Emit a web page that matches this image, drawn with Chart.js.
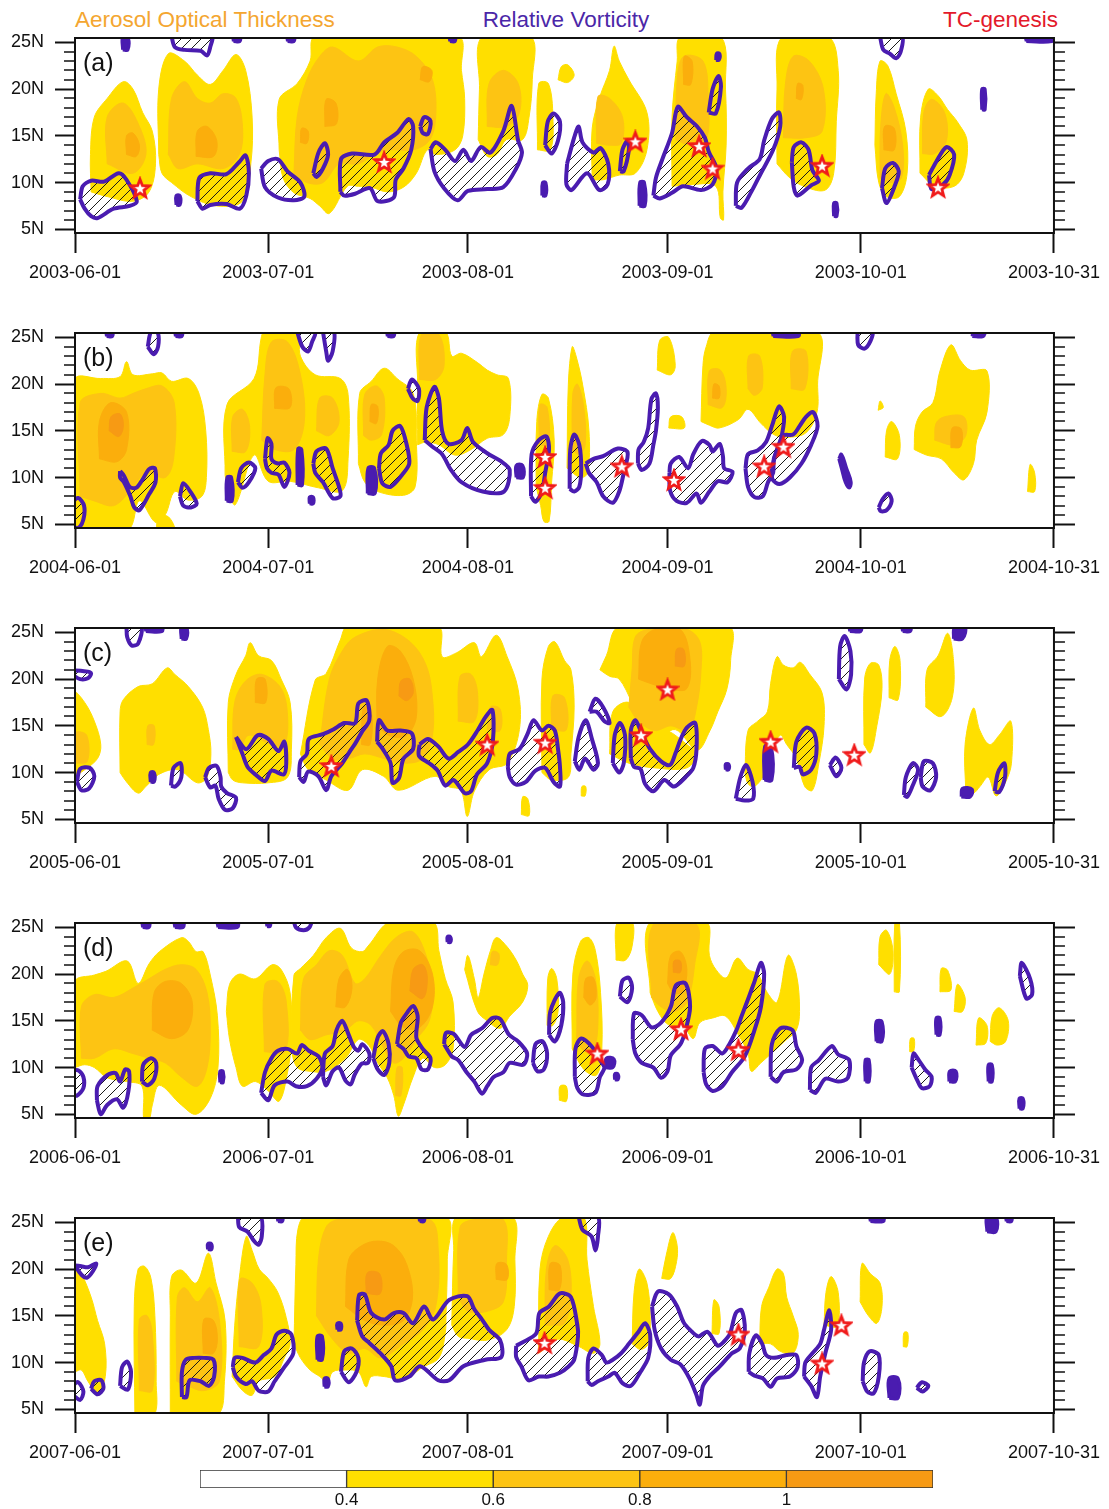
<!DOCTYPE html>
<html>
<head>
<meta charset="utf-8">
<script src="https://cdn.jsdelivr.net/npm/chart.js@4.4.0/dist/chart.umd.min.js"></script>
<style>
  body { margin: 0; background: #fff; width: 1109px; height: 1509px; position: relative; overflow: hidden;
         font-family: 'Liberation Sans', Arial, Helvetica, sans-serif; }
  .hdr { position: absolute; top: 8px; font-size: 22.5px; line-height: 23px; white-space: nowrap; }
  canvas { position: absolute; left: 0; }
</style>
</head>
<body>
<div class="hdr" style="left:75px;color:#F4A630">Aerosol Optical Thickness</div>
<div class="hdr" style="left:466px;width:200px;text-align:center;color:#4B27A8">Relative Vorticity</div>
<div class="hdr" style="left:858px;width:200px;text-align:right;color:#E3192B">TC-genesis</div>

<canvas id="p0" width="1109" height="295" style="top:0px"></canvas>
<canvas id="p1" width="1109" height="295" style="top:295px"></canvas>
<canvas id="p2" width="1109" height="295" style="top:590px"></canvas>
<canvas id="p3" width="1109" height="295" style="top:885px"></canvas>
<canvas id="p4" width="1109" height="295" style="top:1180px"></canvas>
<canvas id="cbar" width="1109" height="49" style="top:1460px"></canvas>

<script>
// axes: day index from June 1 (0) to Oct 31 (152), latitude 5N-25N
const dayTicks = [0, 30, 61, 92, 122, 152];
const dayTickSuffix = ['-06-01', '-07-01', '-08-01', '-09-01', '-10-01', '-10-31'];
const latTicks = [5, 10, 15, 20, 25];
const latTickLabels = ['5N', '10N', '15N', '20N', '25N'];
const aotLevels = [0.4, 0.6, 0.8, 1.0];
const aotLevelLabels = ['0.4', '0.6', '0.8', '1'];
const cbBounds = [0.2, 0.4, 0.6, 0.8, 1.0, 1.2];

// ---- 2003 (a) ---- polygons as [day, lat, day, lat, ...]
const aot04_2003 = [
  [2.5,9, 2.4,13, 3,17, 5,19, 7.5,20.8, 9,20, 10.5,17.5, 12,15.5, 12.5,12, 11.5,9, 9,8, 5,8.5],
  [13,13, 13,20, 14.5,23.8, 17,23, 19,21.5, 21,20.5, 23,22, 25,23.7, 26.5,22, 27.5,17, 27.3,12, 26,8, 22,7.5, 18,8.5, 15,10, 13.5,11],
  [31.7,13.5, 31.7,18.9, 34.5,20.6, 36.5,23, 37.3,25.6, 59.5,25.6, 60,22, 60.5,19, 60.2,15, 59,13.5, 56,13, 54.7,13.5, 53,11, 51,9.5, 48.5,9, 46,9.5, 44,9.6, 42.3,9.6, 39.5,6.7, 38,7.5, 36.5,8.3, 34,8.9, 32.3,10.5],
  [62.6,14.6, 62.8,20, 63.2,25.6, 70.8,25.6, 71,21, 70.5,17, 69.5,14.6, 67,14.6, 65.5,13, 64,12.8],
  [75,21, 75.5,22.4, 76.5,22.6, 77.5,21.5, 76.5,20.7],
  [71.8,13.5, 72,20.6, 73.5,20.6, 74.2,17, 73.8,13.5],
  [80.3,10.3, 80.3,15.8, 81.5,19.2, 83,22, 83.7,24.6, 84.5,23, 86,21, 88.8,17.5, 88.8,13.5, 87,11, 84.5,10.8, 82,10.3],
  [92.7,9.6, 92.7,17, 93.5,23, 94,25.6, 100.3,25.6, 101,20, 101.1,14, 100.6,9, 100.7,6, 100.2,6.2, 99.5,9.6, 96,9.8],
  [109,12, 109,20, 109.8,25.6, 117,25.6, 118.5,22, 118.2,16.5, 117.8,11, 116.5,9.2, 113.5,9.5, 111,10.5],
  [124.2,14, 124.4,19.5, 125,23, 126.2,22.5, 127.5,19.5, 129,15.5, 129.2,11, 128,8.5, 126,8.5, 124.8,10],
  [131.2,11, 131.3,17, 132.5,20, 134,19.3, 135.5,17.8, 137,16.5, 138.5,14.5, 138,11, 136.5,9.6, 133.5,9.6]
];
const aot06_2003 = [
  [5,12, 5,17, 7.5,18.5, 10,16, 11,13, 9,11],
  [14.5,13, 15,19, 17,20.8, 19,19, 21,18.5, 23,19.5, 25,19, 26,16, 25.5,13, 23,11.5, 19,12, 16,11.5],
  [34,11, 34.5,17, 36,21, 38,23.5, 40,24.5, 44,23, 47,24.5, 50,24.5, 53,23.5, 55.5,21, 56,17, 55,14.5, 52.5,13.5, 49,13.5, 46.5,13, 44,12, 41,12, 38.5,10, 36,10],
  [64,16, 64.3,20.6, 66.5,22, 68.8,20.6, 69,17.5, 67,16],
  [81,14.2, 81.2,19.2, 83,19, 85,17, 84.8,14.2, 83,14],
  [93.3,14.6, 93.5,21, 94.5,23.5, 97.5,23, 98.3,19, 98,14.6, 95.5,14],
  [110,14.8, 110.3,20.5, 111.5,23.5, 114,23, 116.2,20, 116,15.5, 113.5,14.8],
  [125,10.5, 125.1,16, 125.9,19.5, 127.2,18, 128.5,14, 128.3,10.5, 126.5,10],
  [131.6,13.1, 131.8,17.5, 133,18.9, 135,17.5, 135.3,14.5, 133.5,13.1]
];
const aot08_2003 = [
  [8,13, 8,15, 9,15.3, 10,14, 9.5,12.8],
  [18.8,12.8, 19,15.5, 20.5,16, 22,14.5, 21.5,12.8],
  [35,14.3, 35.2,15.8, 36.2,15.5, 36,14.2],
  [38.8,16, 39,18.9, 40.5,18.5, 40.6,16.3],
  [53.6,21, 54,22.4, 55.4,22, 55,20.8],
  [94.5,20.5, 94.6,23.5, 95.8,23, 95.6,20.5],
  [112,19, 112.2,20.6, 113,20.4, 112.8,18.9],
  [125.6,13.5, 125.7,16, 127.2,15.8, 127.2,13.5]
];
const aot10_2003 = [];
const vort_2003 = [
  [0.8,8.2, 1.2,9.6, 2.5,10.2, 4.5,10.1, 6.8,11.0, 8.0,10.3, 9.6,8.0, 8.5,7.5, 6,7.2, 3.5,6.2, 2.5,6.4, 1.5,7.2],
  [19,8.0, 19.3,10.5, 21,11.0, 23.5,10.9, 25.5,12.2, 26.5,12.9, 27,11, 26.6,8.6, 25.6,7.2, 23.5,7.7, 21,7.6, 19.8,7.2],
  [28.9,11.5, 30,12.3, 31.5,12.5, 33,11.2, 35,10.0, 35.6,8.5, 34,8.1, 31.5,8.4, 29.5,9.5],
  [37,11, 37.8,13.2, 38.8,14.2, 39.3,13, 38.5,11.5, 37.5,10.6],
  [41.2,9.0, 41.3,12.5, 43,13.1, 46.5,13.0, 48,14.3, 50,15.3, 51.8,16.8, 52.5,16.0, 52.2,13.5, 51,11.5, 49.8,10.3, 49.5,8.4, 47,8.0, 45.8,9.4, 43.5,8.8, 41.8,8.6],
  [53.6,16.0, 54.2,17.0, 55.2,16.6, 54.8,15.2, 54,15.3],
  [55.2,13.6, 56,14.3, 57.5,13.5, 59,12.3, 60.3,13.5, 61.5,12.3, 63,13.8, 64.5,13.2, 66.5,15.5, 67.8,18.2, 68.8,14.5, 69.4,13.2, 68.5,11.5, 66.5,9.5, 64,9.3, 61,9.1, 59.4,8.1, 57.3,9.4, 55.8,11.2],
  [73,14, 73.4,16.5, 74.3,17.4, 75.3,16.5, 75,14.5, 74,13.1],
  [76.4,12.0, 77.5,14.8, 78.2,16.0, 78.8,14.3, 80.5,13.2, 81.6,13.7, 82.8,12.0, 82.7,9.8, 81.4,9.2, 79.5,11.0, 77.1,9.2, 76.3,9.8],
  [84.6,11.2, 85,13.5, 85.8,14.5, 86,13.5, 85.2,11.2],
  [89.8,8.6, 90.2,10.5, 91.2,12.5, 92.7,15.3, 93.6,18.1, 95,17.0, 96.6,16.0, 97.8,14.8, 98.4,13.3, 99.6,11.5, 99.0,9.8, 97.2,9.2, 94.4,9.6, 92.7,8.9, 90.8,8.3],
  [98.4,17.5, 99,20, 99.9,21.4, 100.3,20.3, 99.5,17.4],
  [102.6,7.5, 102.8,10.0, 104.5,11.5, 106.3,12.5, 107,14.5, 108.2,16.8, 109.3,17.5, 109.5,16.0, 108.4,13.5, 106.5,11.0, 105,9.0, 103.5,7.3],
  [111.3,12.2, 111.6,13.8, 112.8,14.3, 113.9,13.5, 114.5,11.3, 115.5,10.2, 114.3,9.7, 112.2,8.6, 111.6,9.5],
  [125.3,9.4, 125.8,11.5, 127,12.1, 127.9,11.2, 127.2,9.5, 126,7.8],
  [132.6,10.8, 133.7,12.2, 135.3,13.8, 136.5,13.0, 135.8,10.8, 134.8,9.8, 133,9.3],
  [15,25.6, 15.5,24.5, 17,24.2, 19.5,24.1, 20.5,23.6, 21,24.5, 21.2,25.6],
  [125,25.6, 125.5,24.2, 126.5,23.8, 127.5,23.3, 128.2,24, 128.4,25.6]
];
const vortSolid_2003 = [
  [72.5,8.6, 72.6,10, 73.1,10, 73.1,8.6],
  [87.6,7.5, 87.7,10, 88.4,10, 88.5,7.5],
  [99.5,23.1, 99.6,23.8, 100.1,23.8, 100,23.1],
  [117.8,6.4, 117.8,7.8, 118.3,7.8, 118.3,6.4],
  [140.8,17.8, 140.8,20, 141.3,20, 141.3,17.8],
  [15.7,7.6, 15.7,8.6, 16.3,8.6, 16.3,7.6],
  [7.4,24.2, 7.4,25.6, 8.2,25.6, 8.2,24.2],
  [24.6,25.1, 24.6,25.6, 25.6,25.6, 25.6,25.1],
  [33,25.1, 33,25.6, 34,25.6, 34,25.1],
  [58.2,25.1, 58.2,25.6, 59,25.6, 59,25.1],
  [147.7,25.1, 147.7,25.6, 151.7,25.6, 151.7,25.1]
];
const tc_2003 = [[10.1,9.4], [48,12.2], [87,14.4], [96.9,13.9], [99,11.5], [116,11.8], [134,9.5]];

// ---- 2004 (b) ----
const aot04_2004 = [
  [0,4.4, 0,20.5, 4,20.6, 7,20.8, 8,22.4, 9,21, 12,21.1, 13.5,21.2, 15,20.3, 17.6,20.6, 19.3,18.9, 20.3,15, 20.4,10, 19.7,8, 17.5,7.6, 15.5,8.5, 14,6, 12.5,5.2, 10,7.5, 8.2,4.4],
  [12.6,4.4, 13,5.8, 14.5,5.8, 15.4,4.4],
  [23.3,10.3, 23.6,17.8, 27.8,20.6, 28.9,24.9, 29.4,25.6, 34.5,25.6, 35,23, 37.3,21, 41.2,20.6, 42.4,18.9, 42.4,12, 41.5,8.6, 37.8,8.9, 33.4,9.6, 30,9.6, 27.8,12.4, 24.9,7.1, 23.8,8.5],
  [44,11.5, 44.2,19, 46,20.3, 48,21.7, 50,20.6, 52.5,19, 53,14, 52.8,9, 51,8.1, 47,8.5, 45,9.5],
  [53.2,13.5, 53.2,20, 53.5,25.6, 57.5,25.6, 58.5,23, 60,23.3, 62.5,22.3, 64,21.5, 65.5,21, 67.3,20.6, 67.5,16.5, 66.5,14.6, 64,14.2, 61.5,13, 59,12.4, 56.5,13.5, 54.5,13.8],
  [71.6,9, 71.7,16, 72.5,18.9, 73.5,18.5, 74.4,14, 74,9.5, 73.6,5.3, 72.8,5.3, 72.3,7],
  [76.4,11, 76.6,20, 77.2,24, 77.8,23, 78.8,20, 79.8,15, 79.6,10.5, 78.5,10],
  [90.4,21.5, 90.8,24.7, 92.2,25, 93.2,22, 92.5,21],
  [92.2,15.3, 92.5,16.5, 94.2,16.5, 94.6,15.3],
  [97.2,16, 97.5,22, 98,24, 99.3,25.6, 115.2,25.6, 115.3,20, 115.2,17, 113.5,14.8, 110.5,14.3, 108.5,14.6, 106.5,15.8, 104.5,17.3, 103,16.2, 100,15.3, 98.5,15.6],
  [130.3,13, 130.5,15.5, 131.5,17, 133.2,18, 134.3,21.4, 136,24.2, 137.5,22.5, 139,21.5, 141.6,21.4, 141.6,17, 140,14, 139.5,11.5, 138,9.75, 136.5,10.5, 134.5,12, 132.2,12.4],
  [125.8,12.2, 126,15, 126.8,16, 128,14.5, 127.7,12],
  [147.9,8.5, 148.3,11.4, 149,10.5, 149,8.5],
  [124.7,17.2, 125,18.2, 125.5,17.5]
];
const aot06_2004 = [
  [0.8,8, 0.8,18, 4,19, 7,18.5, 9,19, 11,19.5, 13.5,19.8, 15.4,18, 15.3,12, 14,10, 11,10.5, 8.5,8.5, 6,7, 3,7.5],
  [24.4,12.8, 24.5,16.5, 26,17.3, 27.1,15.5, 26.5,12.8],
  [29,14, 29.5,21, 30.5,24.5, 33,24.5, 35,21, 35.6,16, 34,13, 31,13],
  [37.5,15, 38,18.5, 40,18.5, 41,16, 39.5,14.5],
  [44.8,14.5, 45,18.9, 46.8,19.8, 48,18.5, 47.6,14.6, 46,14],
  [53.5,20.5, 53.8,25.3, 56.5,25.3, 57.3,22, 56,20.5],
  [72.1,13.5, 72.2,17.8, 73.3,17.5, 73.5,13.5],
  [77.2,13, 77.3,19, 78,20, 79,17.5, 79.2,13.5, 78.3,12.5],
  [98.3,17.8, 98.5,21.4, 100.2,21.5, 101.1,19.5, 100.5,17.5],
  [104.5,19.5, 104.6,23, 106.3,23, 106.7,19.6, 105.5,18.8],
  [111.2,19.5, 111.4,23.5, 113.5,23.5, 113.3,19.5],
  [133.5,14, 133.7,15.8, 135,16.5, 138,16.5, 138.3,14.5, 136.5,13.5]
];
const aot08_2004 = [
  [3.8,12, 3.8,16, 5.5,18, 8,17, 8,13, 6.5,11.7],
  [31,17.4, 31.2,19.6, 33.2,19.5, 33.4,17.5],
  [45.8,16, 46,17.8, 47,17.6, 46.8,15.8],
  [99,18.5, 99.2,20, 100,19.8, 100,18.5],
  [136,13.2, 136.2,15.3, 137.6,15.2, 137.5,13.3]
];
const aot10_2004 = [
  [5.3,15, 5.6,16.5, 7,16.8, 7.5,15.5, 6.8,14.4]
];
const vort_2004 = [
  [-0.5,4.8, -0.5,7.2, 0.5,7.8, 1.4,7, 1.3,5.5, 0.5,4.6],
  [7,10.7, 7.6,10.2, 8.5,9.0, 9.5,8.9, 10.5,9.8, 11.5,10.9, 12.4,11.0, 12.5,9.5, 11.5,8.2, 10,6.5, 9.2,6.8, 8.6,8.0, 7.6,9.5, 7,10],
  [16.3,8.0, 16.8,9.4, 17.8,8.6, 18.9,7.2, 18,6.8, 16.8,7.0],
  [25.3,9.5, 25.8,11, 27,11.6, 28,11, 27,9.5, 26,8.9],
  [29.5,12.0, 29.9,14.2, 30.5,13.6, 30.5,12, 31.5,11.5, 32.5,11.6, 33.3,10.5, 32.5,9.0, 31.6,10.3, 30.5,10.5, 29.8,11],
  [37,11.5, 37.5,12.8, 39,13.1, 40,11, 41,9, 41.2,8.0, 40,7.8, 38.5,9.5, 37.3,10.5],
  [47.2,11.0, 47.5,12.6, 48.7,13.5, 49.3,15.0, 50.5,15.5, 51.5,13.5, 51.9,11.5, 50.8,10.3, 49,9.0, 47.7,9.4],
  [51.7,19.5, 52.3,20.5, 53.4,19.5, 53.2,18.2, 52.4,18.5],
  [54.3,14.0, 54.6,17.5, 55.8,19.7, 56.5,18.5, 57.0,15.0, 58,13.6, 60,14.0, 60.9,15.3, 61.8,13.8, 64,12.6, 66,11.8, 67.5,10.8, 66.6,8.5, 63.3,8.5, 60,9.5, 58.3,10.9, 57,12.5, 55.5,13.3],
  [70.8,8.0, 70.9,12.5, 72,14.0, 73.2,14.4, 73.6,13, 73,10.5, 72.5,8.5, 71.5,7.4],
  [76.8,8.8, 76.9,13, 77.5,14.6, 78.3,13.5, 78.6,11, 78.3,9, 77.5,8.5],
  [79.3,11.5, 80.5,12.0, 82,12.3, 84.3,13.1, 85.8,12.7, 85.2,10.5, 84.5,8.5, 83.5,7.3, 82,8, 81,9.5, 79.8,10.5],
  [87.4,11.5, 88,10.8, 89.2,11.5, 89.8,13.5, 90.2,15, 90.5,17.5, 90.2,19.0, 89.5,18.4, 89.0,15.3, 88.3,13.8, 87.5,13],
  [92.3,10.5, 92.5,11.5, 93.8,12.2, 95.2,11, 96,12.5, 97.3,13.9, 98.5,13.5, 99,12.8, 100.1,13.6, 100.6,12.3, 100.8,11, 102.1,10.6, 101.3,9.5, 99.8,9.6, 98.5,8.5, 97.2,7.3, 96.5,8.3, 95,7.3, 93.4,7.5, 92.4,8.6],
  [104.1,11.0, 104.5,12.5, 106,12.9, 107.3,13.8, 108.2,15.5, 109.3,17.6, 110.1,16.5, 109.5,13.8, 108.5,12.0, 108.4,10.5, 107.6,9.5, 106.8,8.0, 105.5,7.9, 104.5,9.0],
  [108.2,11.0, 109,13.0, 110,14.5, 111.5,14.6, 112.5,15.5, 113.5,16.5, 114.6,17.0, 115.3,15.5, 114.3,13.5, 112.8,11.5, 111,10.0, 109.4,9.3, 108.3,9.8],
  [124.8,6.8, 125.4,7.7, 126.3,8.3, 126.8,7.5, 126,6.5, 125.1,6.4],
  [11.3,24.0, 11.8,25.6, 12.8,25.6, 12.9,24, 12.2,23.2],
  [34.5,25.6, 35.3,24, 36.2,23.5, 36.8,24.5, 37.3,25.6],
  [38.5,25.6, 39,23.5, 39.3,22.5, 40,23.5, 40.2,25.6],
  [121.5,25.6, 121.6,24.2, 122.6,23.8, 123.5,24.6, 123.8,25.6]
];
const vortSolid_2004 = [
  [23.5,7.5, 23.6,10, 24.3,10, 24.4,7.5],
  [34.5,9.2, 34.6,13.1, 35.2,13, 35.3,9.2],
  [36.4,7.2, 36.4,7.9, 37,7.9, 37,7.2],
  [45.4,8.3, 45.5,11, 46.5,11, 46.6,8.3],
  [68.5,10, 68.5,11.3, 69.5,11.3, 69.6,10],
  [118.6,12.0, 119,12.5, 119.8,11.0, 120.5,9.5, 120.2,8.9, 119.6,9.5, 119,11],
  [108.4,25.1, 108.4,25.6, 112.3,25.6, 112.3,25.1],
  [139.3,25.1, 139.5,25.6, 141.2,25.6, 141,25.1],
  [4.9,25.1, 4.9,25.6, 5.8,25.6, 5.8,25.1],
  [15.6,25.1, 15.6,25.6, 16.6,25.6, 16.6,25.1],
  [48.5,25.1, 48.5,25.6, 49.5,25.6, 49.5,25.1]
];
const tc_2004 = [[73,12.2], [73,8.9], [84.9,11.2], [93,9.75], [107,11.2], [110,13.3]];

// ---- 2005 (c) ----
const aot04_2005 = [
  [0,9.6, 0,18.5, 1.5,17.5, 3,15.5, 4,13, 3.5,11.5, 1.5,10.3],
  [7,10, 7,16.5, 7.5,17.8, 9.8,19.2, 12,19.5, 14.3,21.2, 15.5,20.5, 17.6,19.2, 19.8,17, 20.7,14.6, 21.1,12, 20.5,9.5, 19,8.9, 16,10.3, 13,9.8, 11,8.5, 9.8,7.8, 8,9],
  [23.8,10, 23.8,17.5, 25,20.5, 26.5,22.5, 27.2,23.9, 28.5,22.5, 30.5,22, 32,20, 33.4,17.5, 33.6,12.5, 33,9.5, 30,8.9, 26,8.9, 24.5,9.2],
  [35,12, 37.3,19.9, 39,20.6, 41.2,24.2, 42.3,25.6, 56.4,25.6, 57,22.4, 59.2,22.8, 62,23.9, 63.1,22.4, 65.4,24.7, 67.1,22.4, 68.8,18.9, 69,14.6, 67.1,11, 64.3,10.3, 62,8, 60.9,5.3, 59.9,8.1, 58,8.5, 55.9,9.6, 50.2,8.1, 47.9,9.6, 44.6,10.3, 42.4,8.1, 39,9.2, 36.2,10.3],
  [69.3,5.5, 69.5,7.4, 70.3,7.2, 70.5,5.4],
  [72.5,10, 72.5,20, 73.5,23.5, 74.5,24, 76,22, 77,21, 77.5,17, 77,12, 76.6,9.5, 74,9.2],
  [81.5,21, 82.5,22.5, 84.5,25.6, 101.5,25.6, 101.8,22, 101.2,18.9, 99.8,16.5, 98.6,14.5, 96.6,12.4, 93.2,14.6, 90,13.5, 88,15.5, 86.5,17.5, 84.5,20, 83,20.3],
  [83,12, 83.5,16.5, 86,17.5, 89,15, 92,14.5, 95,13, 96.5,12, 95,10.5, 90,10.5, 86,11],
  [104,10, 104.5,14.5, 106,15.5, 107.5,16.5, 108,19.5, 109,22.4, 110,21.5, 111.5,21.2, 112.6,21.8, 114,20.6, 116,18.5, 116.3,15, 115.5,11, 114.5,8.1, 113.3,8.5, 112,11.5, 110.5,13, 109.5,14, 108,12, 107.2,10, 105.5,8.5, 104.5,8.8],
  [122.5,13, 122.6,20, 123.5,21.7, 124.8,21.5, 125.3,19, 124.5,15, 123.5,12.1],
  [126.4,18, 126.5,22, 127.3,23.5, 128.1,22, 127.8,17.8],
  [132.1,17, 132.3,21, 134,22.5, 135.5,24.9, 136.4,22, 136.2,18, 134.5,16],
  [138.3,8, 138.2,13, 139.5,16.9, 140.5,14.5, 142,13, 143.5,14, 145.3,15.5, 145.4,11, 144.5,9, 143,7.5, 141.8,9.5, 140.5,8.5, 139.5,7.8],
  [78.6,7.5, 78.7,8.5, 79.3,8.5, 79.2,7.5]
];
const aot06_2005 = [
  [0,11, 0,14.2, 1.8,14, 1.9,11.2],
  [11.2,13, 11.3,15, 12.3,15, 12.2,13],
  [24.5,12.5, 24.8,17.5, 26.5,19.8, 29,20.5, 32,19, 33,16, 32.5,13, 30.5,13, 27,14, 25.5,12.5],
  [38,13, 39.5,20, 41.5,23, 43.5,24.5, 48,25.3, 52,24, 54.5,21.5, 55.5,18, 55.5,14, 54,11.5, 51,11, 48,11.5, 45,12, 42.5,11.5, 40,11.5],
  [59.5,15.5, 59.8,20.3, 61.5,20.5, 62.5,18.5, 62,15.5],
  [64,14.6, 64.5,17, 66,16.8, 66,14.5],
  [74,14.6, 74.2,18.2, 76,18, 76.3,14.6],
  [86,17, 86.5,21, 87,24.5, 89,25.3, 95,25.3, 97,24, 97.2,21, 96.5,17, 95.2,14.5, 92.5,15, 90,14.5, 87.5,15.5]
];
const aot08_2005 = [
  [28,17.5, 28.2,20, 29.5,20, 29.6,17.5],
  [44.5,13, 44.8,17, 46,16.5, 45.8,13],
  [46.9,15, 47,20, 48.5,23.5, 50.5,23, 52.5,20, 53,16, 51.5,14, 49,13.9],
  [87.5,20, 88,24, 90,25.3, 94,25.3, 95.5,22, 95,19, 92.5,18.9, 89.5,19.5]
];
const aot10_2005 = [
  [50.3,18.2, 50.6,19.8, 52,20, 52.5,18.5, 51.5,17.7],
  [93.2,21.4, 93.4,23.2, 94.5,23.2, 94.6,21.4]
];
const vort_2005 = [
  [0.3,9, 0.8,10.4, 2.3,10.5, 3,9.6, 2.2,8.3, 1,8.1],
  [14.9,8.6, 15.3,10.5, 16.4,11, 16.5,9.5, 15.6,8.5],
  [20.2,9.5, 20.8,10.5, 22,10.7, 22.6,9.5, 22.7,8.5, 23.6,7.8, 25,7.3, 24.5,6.2, 23.3,6, 22.3,7.2, 21.8,8.6, 21,8.4],
  [25,13.8, 26.6,12.5, 28.4,14.0, 30,13.6, 31.6,12.3, 32.5,13.3, 32.8,11, 32.4,9.8, 30.5,10.2, 29.5,9.1, 28,9.8, 26.8,10.6, 26,12],
  [34.8,9.5, 35,11.2, 36,12, 36.3,13.6, 38.5,14.1, 40.1,14.6, 41.8,15.3, 43.5,15.3, 44,17.4, 45.3,17.7, 45.7,15.6, 44.5,14.3, 43.5,13.1, 42.8,12.4, 41.5,11, 39.8,9.6, 39,8.1, 37.8,9.6, 36.2,10.1, 35.5,9.0],
  [46.9,13.3, 47.2,15.6, 48.5,14.5, 50.5,14.5, 52.3,14.2, 52.5,12.5, 51,11.5, 50.3,9.4, 49.3,8.9, 49,11, 47.8,12.5],
  [53.5,13.0, 54.8,13.6, 56.4,12.8, 58,11.5, 59.5,12.2, 61,13.0, 62.5,14.5, 63.8,16.0, 64.8,16.7, 64.9,13.5, 64,11.0, 62.4,9.8, 61.5,8.0, 60.5,7.8, 58.8,9.2, 57.5,8.6, 56.3,10.2, 55,11, 53.4,11.8],
  [67.2,10.6, 67.5,12.0, 69,12.5, 70.3,14.2, 71.2,15.6, 72.5,14.5, 73.5,15.0, 74.5,14.5, 75,12.5, 75.3,10.6, 75.3,8.5, 74.3,9.0, 73,10.5, 71.5,10.2, 70,9.0, 68.5,8.7, 67.5,9.5],
  [77.6,11.2, 78.2,13.8, 79.3,15.6, 80.3,13.5, 81.2,11.0, 80.5,10.3, 79.2,11.5, 78.3,10.3],
  [79.9,16.5, 80.8,17.9, 82,17, 83,15.3, 82.2,15.5, 81,16.5],
  [83.5,11, 83.8,14, 84.6,15.3, 85.4,14, 85.2,11, 84.5,10],
  [86.3,11.5, 86.3,14.5, 87,15.6, 88,14.2, 89.3,12.5, 91,11.2, 92.4,10.8, 93.2,12, 94,13.5, 95,14.8, 96.3,15.3, 96.5,12.5, 96,10.5, 94.8,9.5, 93,8.5, 91.5,9.2, 89.8,8.0, 88.5,8.8, 87.8,10.4, 86.8,10.6],
  [102.6,7.2, 103.3,9.5, 104.2,10.8, 105.2,9, 105.3,7.2, 104,7.0],
  [111.6,10.5, 112,13.3, 113.5,14.8, 114.8,14.2, 115.1,12.0, 114.3,10.3, 113,9.8, 112.5,10.6],
  [117.2,10.8, 118.1,11.6, 119,10.5, 118.2,9.6],
  [118.6,20.0, 118.8,23.5, 119.5,24.6, 120.4,23.0, 120.5,20.5, 119.8,18.9],
  [128.7,7.6, 129,9.5, 130.1,11, 130.9,10.3, 130,8.5, 129.2,7.4],
  [131.3,9.5, 131.8,11.2, 133.2,11, 133.7,9.5, 132.8,8.1, 131.6,8.5],
  [142.8,8, 143.3,10, 144.3,11, 144.4,9.5, 143.5,7.9],
  [8,25.6, 8.1,24.5, 8.8,23.6, 9.8,23.8, 10.3,25.6],
  [-0.5,20.5, 0.8,20.0, 2,20.1, 2.5,20.6, 2,20.8, -0.5,20.9]
];
const vortSolid_2005 = [
  [11.7,9, 11.7,10, 12.3,10, 12.3,9],
  [101,10.3, 101,10.9, 101.5,10.9, 101.5,10.3],
  [107,9.2, 107.1,12.8, 108.1,12.8, 108.2,9.2],
  [137.6,7.4, 137.8,8.3, 139.3,8.2, 139,7.4],
  [11,25.1, 11,25.6, 13.5,25.6, 13.5,25.1],
  [16.5,24.3, 16.5,25.6, 17.3,25.6, 17.3,24.3],
  [120.3,25.1, 120.3,25.6, 122,25.6, 122,25.1],
  [128.5,25.1, 128.5,25.6, 129.7,25.6, 129.7,25.1],
  [136.4,24.3, 136.6,25.6, 138.2,25.6, 137.8,24.3]
];
const tc_2005 = [[39.8,10.7], [64,13], [73,13.2], [87.9,14], [92,18.9], [108,13.3], [121,11.9]];

// ---- 2006 (d) ----
const aot04_2006 = [
  [0,10, 0,19.2, 3,19.9, 4.8,20.3, 8.1,21.4, 9.8,19, 11.5,21.1, 13.1,22.4, 16.5,23.9, 17.6,23.5, 18.8,22.4, 19.9,22.4, 21,19.9, 22.1,15.6, 22.2,10, 21,6.7, 18.8,5, 16.5,6, 13.1,8.1, 12,6, 11.5,4.4, 10.7,4.4, 10.4,8, 8,8.5, 5,8.9, 3,10, 1.5,10.3],
  [23.5,16, 24,18.9, 25.5,20, 28,19.5, 30.6,21, 32,20.5, 33.4,18, 33.6,13, 33,9.5, 31.7,6.4, 30,7.5, 28,8.5, 26,8, 25,10, 24,13],
  [33.5,12, 34,19.9, 35,20.6, 37,22, 39,23.9, 41.2,24.9, 42.9,22.8, 44.6,22.4, 45.5,23, 48.9,25.6, 55.6,25.6, 56.5,22.5, 57.5,19.5, 58.7,17, 58.7,12, 57.5,10.3, 55.8,10, 54,11, 52.5,9, 51,6, 50.2,4.8, 49.5,7, 48.5,8.9, 47,10.5, 45.6,12.4, 44,13, 42,11, 39,9.6, 36.5,9.6, 34.5,10],
  [60.5,20.5, 61,22, 62,19.5, 62.6,17.5, 63.5,20, 64.5,22.5, 65.4,23.9, 67,23, 68.5,21.5, 69.5,20, 70.3,18.8, 69.5,17, 67.5,15.5, 66,14.2, 64,15, 62.5,16],
  [73.3,14.5, 73.4,19.5, 74,20.6, 74.8,19.5, 75,16, 74.2,14.5],
  [75.2,6.5, 75.3,8, 76.3,8, 76.3,6.4],
  [77.2,12, 77.3,20, 78.5,23.5, 79.8,23.9, 80.8,22.5, 81.6,18, 81.8,12, 81,9.2, 79,9.8],
  [84,21.5, 84.2,25.6, 86.5,25.6, 86.5,23, 85.5,21.5],
  [89.3,18, 89.3,25.6, 98,25.6, 98.5,22, 99.5,20.5, 101.1,19.6, 102.8,21.7, 104.5,20.5, 106,20, 107.5,18, 109,17, 110.7,22, 112,20, 112.5,16, 112,14, 110.5,13, 106.5,10.5, 105,9.6, 104.5,11.5, 103,13.5, 101,15.5, 99,15.3, 97,14.8, 96,13.1, 94.6,14.2, 92.1,14.6, 90.5,16],
  [124.8,21, 125,24, 126,24.7, 127,22.5, 126.5,20],
  [127.2,18.1, 127.3,25.6, 128,25.6, 128,18.1],
  [134.3,18.1, 134.5,20.6, 135.5,20.4, 136,18.3],
  [136.5,16, 137,18.9, 138.2,17.5, 137.8,16],
  [139.9,12.4, 140.3,15.3, 141.6,14.5, 141.4,12.6],
  [142.1,12.8, 142.4,15.5, 143.5,16.4, 144.9,15, 144.5,12.8, 143.2,12.4],
  [129.6,11.7, 129.7,13.1, 130.3,13.1, 130.2,11.7]
];
const aot06_2006 = [
  [1,11, 1,16.5, 3,17.8, 6,17.5, 9,18.5, 11.5,19.5, 14,20.5, 16.5,21, 18.8,20.5, 20.5,18, 21,14, 20.5,10, 19,8, 16.5,9, 14,10.5, 11.5,11, 9,11.5, 6,12, 3,11],
  [29.4,11.7, 29.5,18.9, 31.5,19.2, 32.8,17, 32.6,11.7],
  [35,14, 35.5,19.5, 37.5,21, 39.5,22.5, 41.5,22, 43.5,19, 45,19.5, 47.5,22, 50,24, 52.5,24.5, 54.5,22, 55.5,18.5, 55,15, 53,13, 51,11, 49.5,10.5, 48,12, 46,14.5, 44,15, 42,14, 39,13.5, 36.5,13],
  [49.8,7, 50,10, 50.8,10, 50.6,7],
  [64.5,21, 64.8,22.4, 65.8,22.2, 65.6,21],
  [77.9,13, 78.2,19.5, 79.5,21.4, 80.8,19.5, 81.2,15, 80.5,11.8, 79,11.8],
  [89.5,17.5, 89.8,25.3, 96.5,25.3, 96.2,21, 95,17, 93,16, 91,16.5]
];
const aot08_2006 = [
  [12,14, 12.3,18, 14,19.2, 16.5,19, 18.2,17, 17.5,14, 15,13.1],
  [40.5,16.5, 41,19.5, 42.3,20.5, 43,18.5, 42,16.5],
  [49,16, 49.5,20.5, 51,22.4, 53.5,22.5, 55.5,20, 55.5,16.5, 53.5,14.3, 51,14.3],
  [79,17.5, 79.3,19.5, 80.5,19.6, 80.9,17.5, 80,16.7],
  [92,19, 92.5,22, 94,22.4, 95,20.5, 94.3,18.1, 93,18]
];
const aot10_2006 = [
  [52,18.2, 52.5,20.5, 54,21, 54.7,19.5, 54,17.4],
  [92.9,20.2, 93,21.4, 94,21.4, 94,20.2]
];
const vort_2006 = [
  [-0.5,7.2, 0.3,7.0, 1.3,7.8, 1.3,9.0, 0.5,9.7, -0.5,9.5],
  [3.4,6.5, 3.5,8.0, 5,9.2, 6.3,9.4, 7,8.5, 7.8,9.8, 8.4,9.6, 8.3,7.5, 7.5,5.7, 6.5,6.6, 5,6, 4,5.0],
  [10.4,8.5, 10.6,10.3, 11.8,11, 12.6,10.5, 12.3,8.8, 11.3,8.1],
  [28.9,7.3, 29.5,9.5, 30.5,11.0, 31.5,11.8, 33,12.0, 34.5,11.5, 35.2,12.4, 36.3,11.8, 37.8,11.2, 38.4,10.0, 37.5,8.8, 36,8.0, 34.3,8.0, 33,8.5, 31,8.1, 30,6.5],
  [38.5,9, 38.8,11.5, 40,12.3, 40.6,14.0, 41.5,15.0, 42.5,13.5, 43.3,12.2, 44,11.8, 44.6,12.5, 45.7,11.5, 45.5,10.5, 44.5,10.4, 43.4,9.2, 42.8,8.2, 42,8.6, 41,10, 40,9.6, 39,8.1],
  [46.3,11, 47,13.2, 47.8,13.9, 48.7,12.5, 48.8,10.5, 48,9.2, 47,9.8],
  [50,12.5, 50.6,14.8, 51.5,15.8, 52.5,16.6, 53.2,15.5, 53,13.2, 54,12, 55.2,11.0, 54.8,9.8, 53.8,9.8, 53,11, 51.8,11.2, 51,12],
  [57.3,12.5, 57.6,13.7, 58.8,13.6, 60.5,12.2, 61.5,13.5, 63.2,14.2, 64.8,15.3, 66,15.2, 67.4,13.5, 68.8,12.8, 70.2,11.5, 69.6,10.3, 67.5,10.5, 66.5,9.5, 65,9.0, 64,8.0, 63.2,7.2, 62,8.5, 60.8,9.5, 59.5,10.8, 58.5,11.2],
  [71.1,10.5, 71.5,12.5, 72.6,12.8, 73.3,11.5, 72.8,9.8, 71.8,9.6],
  [73.6,13.5, 73.8,16.0, 75.2,18.0, 75.8,17, 75.5,14.5, 74.5,12.8],
  [77.6,9, 77.7,12, 78.6,13.1, 80.3,12.2, 81.5,10.8, 82.2,10.0, 81.5,9.0, 80.8,7.3, 79,7.1, 78,7.8],
  [84.6,17.6, 85,19.3, 86,19.6, 86.5,18.5, 85.8,17.0],
  [86.6,13.0, 86.8,15.8, 88,15.6, 89.5,14.3, 91,14.8, 92.5,16.5, 93.3,18.8, 94.8,19.0, 95.5,16.5, 94.8,14.0, 94,12.5, 92.5,11.3, 92,9.6, 91,8.9, 89.8,10.0, 88,10.5, 87,11.5],
  [97.6,9.5, 97.8,12, 99,12.3, 100.5,11.5, 101.6,12.5, 102.7,14.0, 103.5,15.5, 104.6,17.5, 105.5,19.2, 106.5,21.2, 107,20, 106.5,16.5, 105.5,14.0, 104,11.2, 102,9.5, 100.5,8.0, 99,7.5, 98,8.2],
  [108,9.0, 108.2,12.5, 109.5,14.2, 111.4,14.0, 112,12.3, 112.9,10.8, 112,9.8, 110,9.5, 109,8.5],
  [114.1,7.6, 114.3,10, 115.5,10.8, 117.5,12.3, 118.5,11.4, 120.2,10.8, 120,8.9, 118.5,8.5, 116.5,8.8, 115,7.3],
  [129.9,10.0, 130.2,11.5, 131,10.8, 132,9.8, 133,9.0, 132.7,8.0, 131.5,7.8, 130.8,8.6],
  [146.7,19.8, 147,21.2, 148.3,19.5, 148.6,17.8, 147.7,17.4],
  [34,25.6, 34.3,25.0, 35.5,24.7, 36.4,25.0, 36.6,25.6]
];
const vortSolid_2006 = [
  [22.5,8.4, 22.5,9.6, 23,9.6, 23,8.4],
  [82.3,10, 82.5,11, 83.7,10.9, 83.5,10],
  [83.8,8.7, 83.8,9.3, 84.3,9.3, 84.3,8.7],
  [122.7,8.5, 122.7,10.8, 123.3,10.8, 123.3,8.5],
  [124.4,12.8, 124.4,14.9, 125.3,14.9, 125.3,12.8],
  [133.7,13.5, 133.7,15.3, 134.3,15.3, 134.3,13.5],
  [135.7,8.5, 135.8,9.6, 136.8,9.6, 136.7,8.5],
  [141.8,8.5, 141.8,10.3, 142.4,10.3, 142.4,8.5],
  [146.6,5.6, 146.6,6.7, 147.2,6.7, 147.2,5.6],
  [57.8,23.4, 57.8,24, 58.3,24, 58.3,23.4],
  [10.5,25.0, 10.5,25.6, 11.5,25.6, 11.5,25.0],
  [15.5,25.0, 15.5,25.6, 16.8,25.6, 16.8,25.0],
  [22.2,25.0, 22.2,25.6, 25.2,25.6, 25.2,25.0],
  [29.8,25.1, 29.8,25.6, 30.3,25.6, 30.3,25.1]
];
const tc_2006 = [[81.1,11.5], [94.1,14.1], [103,11.9]];

// ---- 2007 (e) ----
const aot04_2007 = [
  [0,9, 0,20.3, 1,19.5, 2.5,17, 3.5,14.5, 4.6,12, 4.7,8.5, 3.5,6.7, 2,8, 1,9.2],
  [9.3,4.4, 9.2,16, 9.8,20, 10.8,20.3, 11.8,19, 12.4,15, 12.6,8, 12.3,4.4],
  [14.8,4.4, 14.8,15, 15,19.2, 16.5,19.9, 18.8,18.5, 20.7,21.7, 21.9,18.5, 23.3,14.5, 23.2,8, 22.1,4.4],
  [24.4,8.5, 24.8,14, 25.5,19, 26.6,23.5, 27.5,22, 28.6,20, 30,19, 31.5,17.5, 32.8,14.8, 33.4,12, 32.5,10.5, 31,8.5, 28.5,8, 27.5,6.5, 26,7],
  [34,12, 34.3,20.5, 34.6,24.2, 35.8,25.6, 57.5,25.6, 57.8,21, 57.6,15, 57.5,13.2, 56.5,10.5, 54,9.5, 51,8.2, 48,8.5, 46,8.5, 45.2,7.4, 44,9, 42,9.2, 40,9.0, 39.2,7.8, 38,8.5, 36.5,9.2, 35,10.5],
  [58.5,14, 58.8,22, 59.3,25.6, 67.9,25.6, 68.3,21, 68.2,16, 67,13.5, 64,12.4, 61,12.6, 59.5,12.8],
  [72,11, 72.2,20, 73.5,23.5, 75.8,25.6, 79,25.6, 79.5,21, 80.5,16, 81.5,12, 80.5,11, 78,11.8, 75,12.5, 73,11.5],
  [86.5,12, 86.8,17.5, 87.6,20, 88.8,18.5, 89.3,15, 89,12, 87.8,11.4],
  [91.1,19, 91.8,21.5, 92.8,23.9, 93.5,22.5, 93.4,20.8, 92.5,19],
  [98.9,13.1, 99.2,16.7, 100,16, 100,13.1],
  [106.3,12, 106.6,16, 107.7,18, 109,20, 110,19.5, 110.5,17, 111.5,15, 112.3,13, 111.5,11, 109.5,11.2, 108,12],
  [116.3,14, 116.6,17.5, 117.4,19.2, 118.5,17.5, 118.3,13.9],
  [121.9,16.5, 122.2,20.6, 123.5,19.5, 125,18.5, 125.3,16, 124.5,14.2, 123.2,15],
  [128.6,11.7, 128.7,13.2, 129.3,13.2, 129.2,11.7]
];
const aot06_2007 = [
  [10,7, 10,14.6, 11.2,15, 12,13, 12,7],
  [15.8,8, 15.9,17, 17,18, 19,16.5, 21,18, 22.5,14, 22.4,8, 20,7, 17.5,7.5],
  [25.5,11.7, 25.6,18.9, 27.5,18.5, 28.9,16, 28.5,11.7],
  [37.5,15, 37.8,21, 39,24.5, 41,25.3, 55,25.3, 56.4,22, 56,16, 54,13.5, 51,12, 47.5,10.5, 45,11.5, 42.5,11, 40,12.5],
  [59.5,17, 59.8,24.5, 62,25.3, 66.5,25.3, 67,21, 66.5,16.5, 64,15.5, 61,15.5],
  [73,14, 73.2,20, 74.5,22.5, 76.5,21, 77,17, 76,14.2, 74,14]
];
const aot08_2007 = [
  [19.9,11, 20,14.6, 21.5,14.5, 22.1,12.5, 21.5,11],
  [42,16, 42.5,21, 44.5,22.5, 47,23, 49.5,22.5, 51.5,20.5, 52.4,17, 51,14.5, 48,14, 45,14.5],
  [65.4,18.9, 65.5,20.6, 67,20.5, 67.1,18.9],
  [73.6,17.8, 73.8,20.6, 75.3,20.4, 75.2,17.8]
];
const aot10_2007 = [
  [45.2,17.4, 45.4,19.6, 47.3,19.5, 47.4,17.4]
];
const vort_2007 = [
  [0,20.4, 1,19.4, 1.9,19.1, 2.8,19.8, 3.3,20.6, 2,20.2, 1,20.3],
  [-0.3,6.5, -0.3,7.5, 0.5,7.9, 1.3,6.9, 0.8,6.0],
  [2.5,7.2, 3.0,8.0, 4.1,8.1, 4.4,7.2, 3.5,6.6],
  [7,7.5, 7.3,9.5, 8.1,10.1, 8.7,9.0, 8.2,7.1],
  [16.6,6.3, 16.6,9.0, 17.2,10.3, 18.5,10.5, 20,10.5, 21.5,10.3, 21.6,8.5, 20.8,7.5, 19.5,8.0, 17.8,8.1, 17.3,6.3],
  [24.5,9.5, 24.8,10.5, 26,10.5, 28,10.0, 29.3,10.8, 30.5,11.5, 31.3,13.0, 32.5,13.4, 33.6,13, 33.9,11, 32.5,9.5, 31,8.0, 30,6.9, 28.5,7.0, 27.5,8, 26.5,7.7, 25,8.5],
  [41.3,9, 41.8,11.2, 43,11.5, 44,10.5, 43.7,9.0, 42.5,7.9],
  [43.8,14.5, 44.1,17.2, 45,17.3, 46,15.3, 48,14.6, 49.5,15.3, 51,15.3, 52.5,14.2, 54.2,16.0, 55.6,14.6, 58.1,16.7, 60.9,17.1, 62,15.7, 63.2,14.6, 64.3,13.5, 66,12.4, 66.2,10.6, 63.7,10.3, 60.3,9.6, 58.1,8.1, 56.4,8.1, 53.6,9.6, 51.9,8.5, 49.7,8.1, 49.1,9.6, 47.4,11.0, 45.7,12.1, 44.6,12.8],
  [68.5,11.8, 69.3,12.1, 71.6,13.1, 72.1,15.3, 73.6,16.0, 75.3,17.4, 77,17.0, 78,14, 78.1,12.8, 77.5,10.3, 76.5,9.5, 75.3,8.9, 73.5,8.5, 72,8.5, 70.4,8.1, 69.3,9.6, 68.5,10.6],
  [79.6,8.0, 79.7,10.5, 80.5,11.5, 81.8,10.8, 82.5,10.0, 83.5,10.3, 84.8,11.0, 86,12.0, 87.5,13.3, 88.5,14.2, 89.3,13.0, 89,10.5, 87.8,9.0, 86.3,7.5, 85,7.8, 83.8,8.9, 82.8,8.5, 81.2,8.0, 80.2,7.6],
  [89.6,16.0, 90.5,17.6, 92.2,17.3, 93.5,16.0, 94.5,14.3, 95.5,13.5, 96.8,12.8, 98.2,13.3, 99.8,11.8, 100.7,12.2, 101.7,13.1, 102.6,15.3, 103.5,15.6, 104,13.5, 103.2,11.5, 102,11.0, 100,9.5, 98.5,8.5, 97.5,7.5, 97,5.5, 96.5,6.5, 95.4,8.3, 94,9.8, 92.5,10.3, 91,11.5, 90,13.5],
  [104.6,9.0, 104.7,11.0, 105.7,12.9, 106.7,12.0, 107.3,10.8, 108.5,10.5, 110.5,10.8, 112,10.8, 112.2,9.5, 111,8.5, 109,8.3, 108,7.4, 106.8,8.3, 105.5,8.6],
  [113.2,8.5, 113.4,10.0, 114.5,11.0, 115.7,12.0, 116.3,13.5, 117.1,15.6, 117.4,13.5, 116.5,11, 115.7,8.5, 115.2,6.3, 114.3,7.5],
  [122.3,8.0, 122.5,10.0, 123.4,11.2, 124.8,10.8, 124.8,8.5, 124,6.7, 123,6.9],
  [130.7,7.3, 131.5,7.9, 132.5,7.5, 131.6,6.9],
  [25.3,25.6, 25.5,24.5, 26.8,24, 27.8,23, 28.5,22.6, 29,23.5, 28.8,25.6],
  [78.2,25.6, 78.8,24.2, 80.2,23.5, 80.8,22.0, 81.2,23.5, 81.2,25.6]
];
const vortSolid_2007 = [
  [37.6,10.3, 37.6,12.8, 38.4,12.8, 38.4,10.3],
  [40.7,13.5, 40.7,14.2, 41.3,14.2, 41.3,13.5],
  [38.7,7.4, 38.7,8.3, 39.3,8.3, 39.3,7.4],
  [20.6,22.1, 20.6,22.7, 21.2,22.7, 21.2,22.1],
  [126.4,6.2, 126.4,8.3, 127.8,8.3, 127.8,6.2],
  [141.6,24, 141.6,25.6, 143,25.6, 143,24],
  [31.5,25.1, 31.5,25.6, 32.2,25.6, 32.2,25.1],
  [53.5,25.1, 53.5,25.6, 54.2,25.6, 54.2,25.1],
  [123.5,25.1, 123.5,25.6, 125.5,25.6, 125.5,25.1],
  [144.6,25.1, 144.6,25.6, 145.4,25.6, 145.4,25.1]
];
const tc_2007 = [[72.9,12.1], [103,13], [116,9.9], [119,14]];

// ---- styles ----
const aotColors = ['#FFDF00', '#FDC413', '#FBAE0C', '#F79A14'];
const vortColor = '#4A1CB0';
const tcColor = '#F01A1A';

Chart.defaults.font.family = "'Liberation Sans', Arial, Helvetica, sans-serif";
Chart.defaults.color = '#111';

const panels = [
  { year: '2003', label: '(a)', aot: [aot04_2003, aot06_2003, aot08_2003, aot10_2003], vort: vort_2003, solid: vortSolid_2003, tc: tc_2003 },
  { year: '2004', label: '(b)', aot: [aot04_2004, aot06_2004, aot08_2004, aot10_2004], vort: vort_2004, solid: vortSolid_2004, tc: tc_2004 },
  { year: '2005', label: '(c)', aot: [aot04_2005, aot06_2005, aot08_2005, aot10_2005], vort: vort_2005, solid: vortSolid_2005, tc: tc_2005 },
  { year: '2006', label: '(d)', aot: [aot04_2006, aot06_2006, aot08_2006, aot10_2006], vort: vort_2006, solid: vortSolid_2006, tc: tc_2006 },
  { year: '2007', label: '(e)', aot: [aot04_2007, aot06_2007, aot08_2007, aot10_2007], vort: vort_2007, solid: vortSolid_2007, tc: tc_2007 }
];

function polyPoints(flat) {
  const pts = [];
  for (let i = 0; i < flat.length; i += 2) pts.push({ x: flat[i], y: flat[i + 1] });
  pts.push({ x: flat[0], y: flat[1] });
  return pts;
}

function makeHatch() {
  const c = document.createElement('canvas');
  c.width = 10; c.height = 10;
  const g = c.getContext('2d');
  g.strokeStyle = '#1a1a1a';
  g.lineWidth = 1;
  g.beginPath();
  g.moveTo(0, 10); g.lineTo(10, 0);
  g.moveTo(-1, 1); g.lineTo(1, -1);
  g.moveTo(9, 11); g.lineTo(11, 9);
  g.stroke();
  return g.createPattern(c, 'repeat');
}

function makeStar() {
  const c = document.createElement('canvas');
  c.width = 24; c.height = 24;
  const g = c.getContext('2d');
  g.beginPath();
  for (let i = 0; i < 10; i++) {
    const r = i % 2 ? 4.1 : 9.6;
    const a = -Math.PI / 2 + i * Math.PI / 5;
    g.lineTo(12 + r * Math.cos(a), 12.8 + r * Math.sin(a));
  }
  g.closePath();
  g.fillStyle = '#fff';
  g.fill();
  g.lineWidth = 2.8;
  g.strokeStyle = tcColor;
  g.stroke();
  return c;
}

const hatch = makeHatch();
const starImg = makeStar();

function shapeSet(flat, fillColor, lineColor, lineWidth, tension, order) {
  return {
    data: polyPoints(flat),
    showLine: true,
    fill: 'shape',
    backgroundColor: fillColor,
    borderColor: lineColor,
    borderWidth: lineWidth,
    borderJoinStyle: 'round',
    pointRadius: 0,
    pointHitRadius: 0,
    tension: tension,
    order: order,
    clip: 0
  };
}

// frame, minor latitude ticks and the panel letter
const framePlugin = {
  id: 'panelFrame',
  afterDatasetsDraw(chart, args, opts) {
    const { ctx, chartArea: a } = chart;
    const y = chart.scales.y;
    ctx.save();
    ctx.strokeStyle = '#111';
    ctx.lineWidth = 1.5;
    ctx.beginPath();
    for (let lat = 5; lat <= 25; lat++) {
      if (lat % 5 === 0) continue;
      const py = Math.round(y.getPixelForValue(lat));
      ctx.moveTo(a.left - 11, py); ctx.lineTo(a.left, py);
      ctx.moveTo(a.right, py); ctx.lineTo(a.right + 11, py);
    }
    ctx.stroke();
    ctx.lineWidth = 2;
    ctx.strokeRect(a.left, a.top, a.right - a.left, a.bottom - a.top);
    ctx.fillStyle = '#111';
    ctx.font = "25px 'Liberation Sans', Arial, sans-serif";
    ctx.textBaseline = 'alphabetic';
    ctx.fillText(opts.label, a.left + 8, a.top + 33);
    ctx.restore();
  }
};

function latAxis(position, width, showLabels) {
  return {
    type: 'linear',
    position: position,
    min: 4.6,
    max: 25.47,
    afterBuildTicks: s => { s.ticks = latTicks.map(v => ({ value: v })); },
    afterFit: s => { s.width = width; },
    ticks: {
      display: showLabels,
      padding: 11,
      color: '#111',
      font: { size: 18 },
      callback: v => latTickLabels[latTicks.indexOf(v)]
    },
    grid: { drawOnChartArea: false, tickLength: showLabels ? 20 : 21, tickWidth: 2, tickColor: '#111' },
    border: { display: false }
  };
}

panels.forEach((p, idx) => {
  const datasets = [];
  p.aot.forEach((level, li) => {
    level.forEach(poly => datasets.push(shapeSet(poly, aotColors[li], aotColors[li], 1, 0.35, 40 - li * 5)));
  });
  p.vort.forEach(poly => datasets.push(shapeSet(poly, hatch, vortColor, 4, 0.3, 10)));
  p.solid.forEach(poly => datasets.push(shapeSet(poly, vortColor, vortColor, 3.2, 0.4, 10)));
  datasets.push({
    data: p.tc.map(([x, y]) => ({ x, y })),
    pointStyle: starImg,
    pointRadius: 12,
    order: 0,
    clip: false
  });

  new Chart(document.getElementById('p' + idx), {
    type: 'scatter',
    data: { datasets },
    options: {
      responsive: false,
      animation: false,
      events: [],
      layout: { padding: { top: 38, left: 0, right: 0, bottom: 0 } },
      plugins: {
        legend: { display: false },
        tooltip: { enabled: false },
        panelFrame: { label: p.label }
      },
      scales: {
        x: {
          type: 'linear',
          position: 'bottom',
          min: 0,
          max: 152,
          afterBuildTicks: s => { s.ticks = dayTicks.map(v => ({ value: v })); },
          afterFit: s => { s.height = 62; },
          ticks: {
            autoSkip: false,
            maxRotation: 0,
            padding: 9,
            color: '#111',
            font: { size: 18 },
            callback: v => p.year + dayTickSuffix[dayTicks.indexOf(v)]
          },
          grid: { drawOnChartArea: false, tickLength: 20, tickWidth: 2, tickColor: '#111' },
          border: { display: false }
        },
        y: latAxis('left', 75, true),
        yr: latAxis('right', 51, false)
      }
    },
    plugins: [framePlugin]
  });
});

// colour bar
new Chart(document.getElementById('cbar'), {
  type: 'bar',
  data: {
    labels: ['AOT'],
    datasets: ['#FFFFFF'].concat(aotColors).map((c, i) => ({
      data: [[cbBounds[i], cbBounds[i + 1]]],
      backgroundColor: c,
      borderColor: '#333',
      borderWidth: 1,
      borderSkipped: false,
      grouped: false,
      barPercentage: 1,
      categoryPercentage: 1
    }))
  },
  options: {
    indexAxis: 'y',
    responsive: false,
    animation: false,
    events: [],
    layout: { padding: { left: 200, right: 176, top: 10, bottom: 0 } },
    plugins: { legend: { display: false }, tooltip: { enabled: false } },
    scales: {
      x: {
        type: 'linear',
        min: 0.2,
        max: 1.2,
        afterBuildTicks: s => { s.ticks = aotLevels.map(v => ({ value: v })); },
        afterFit: s => { s.height = 21; },
        ticks: { padding: 2, color: '#111', font: { size: 17 }, callback: v => aotLevelLabels[aotLevels.indexOf(v)] },
        grid: { display: false, drawTicks: false },
        border: { display: false }
      },
      y: { display: false }
    }
  }
});
</script>
</body>
</html>
